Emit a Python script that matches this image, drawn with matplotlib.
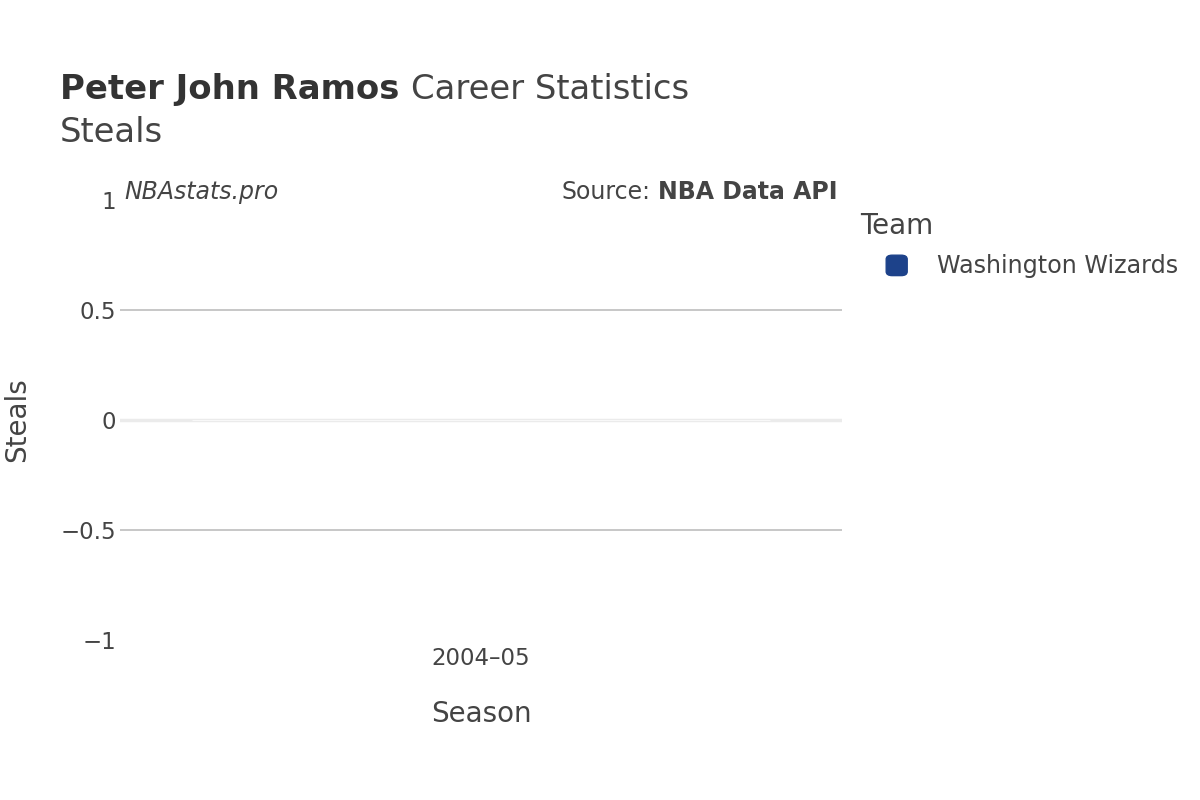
import matplotlib
matplotlib.use("Agg")
import matplotlib.pyplot as plt
from matplotlib.patches import FancyBboxPatch

plt.rcParams['font.family'] = ['DejaVu Sans']

seasons = ["2004–05"]
steals = [0]
team = "Washington Wizards"
team_color = "#1d428a"
yticks = [-1, -0.5, 0, 0.5, 1]
ytick_labels = ["−1", "−0.5", "0", "0.5", "1"]

fig = plt.figure(figsize=(12, 8), dpi=100)
ax = fig.add_axes([0.1, 0.2, 0.6017, 0.55])

ax.bar(range(len(seasons)), steals, width=0.8, color=team_color,
       edgecolor="white", linewidth=0.5, zorder=3)

ax.set_xlim(-0.5, len(seasons) - 0.5)
ax.set_ylim(-1, 1)
ax.set_yticks(yticks)
ax.set_yticklabels(ytick_labels)
ax.set_xticks(range(len(seasons)))
ax.set_xticklabels(seasons)

for s in ax.spines.values():
    s.set_visible(False)
ax.tick_params(length=0, labelsize=16.5, colors="#444444")
ax.tick_params(axis="y", pad=3)
ax.tick_params(axis="x", pad=5)
for y in [-0.5, 0.5]:
    ax.axhline(y, color="#bdbdbd", linewidth=1.2, zorder=1)
ax.axhline(0, color="#ebebeb", linewidth=2.5, zorder=1)

ax.set_xlabel("Season", fontsize=20, color="#444444", labelpad=22)
fig.text(0.014, 0.475, "Steals", fontsize=20, color="#444444",
         rotation=90, va="center", ha="center")

# title
t1 = fig.text(0.05, 0.888, "Peter John Ramos", fontsize=24.4, fontweight="bold",
              color="#333333", va="center")
fig.canvas.draw()
bb = t1.get_window_extent()
x2 = (bb.x1 + 12) / fig.bbox.width
fig.text(x2, 0.888, "Career Statistics", fontsize=24.4, color="#444444", va="center")
fig.text(0.05, 0.834, "Steals", fontsize=24.4, color="#444444", va="center")

# annotations
fig.text(0.104, 0.76, "NBAstats.pro", fontsize=17, style="italic",
         color="#444444", va="center")
src = fig.text(0.698, 0.76, "NBA Data API", fontsize=17, fontweight="bold",
               color="#444444", va="center", ha="right")
fig.canvas.draw()
sb = src.get_window_extent()
fig.text((sb.x0 - 8) / fig.bbox.width, 0.76, "Source:", fontsize=17,
         color="#444444", va="center", ha="right")

# legend
fig.text(0.717, 0.717, "Team", fontsize=20, color="#444444", va="center")
box = FancyBboxPatch((0.7385, 0.6555), 0.0175, 0.0255,
                     boxstyle="round,pad=0,rounding_size=0.005",
                     transform=fig.transFigure, facecolor=team_color,
                     edgecolor=team_color)
fig.patches.append(box)
fig.text(0.7805, 0.667, team, fontsize=17.2, color="#444444", va="center")

fig.savefig("out.png", dpi=100)
